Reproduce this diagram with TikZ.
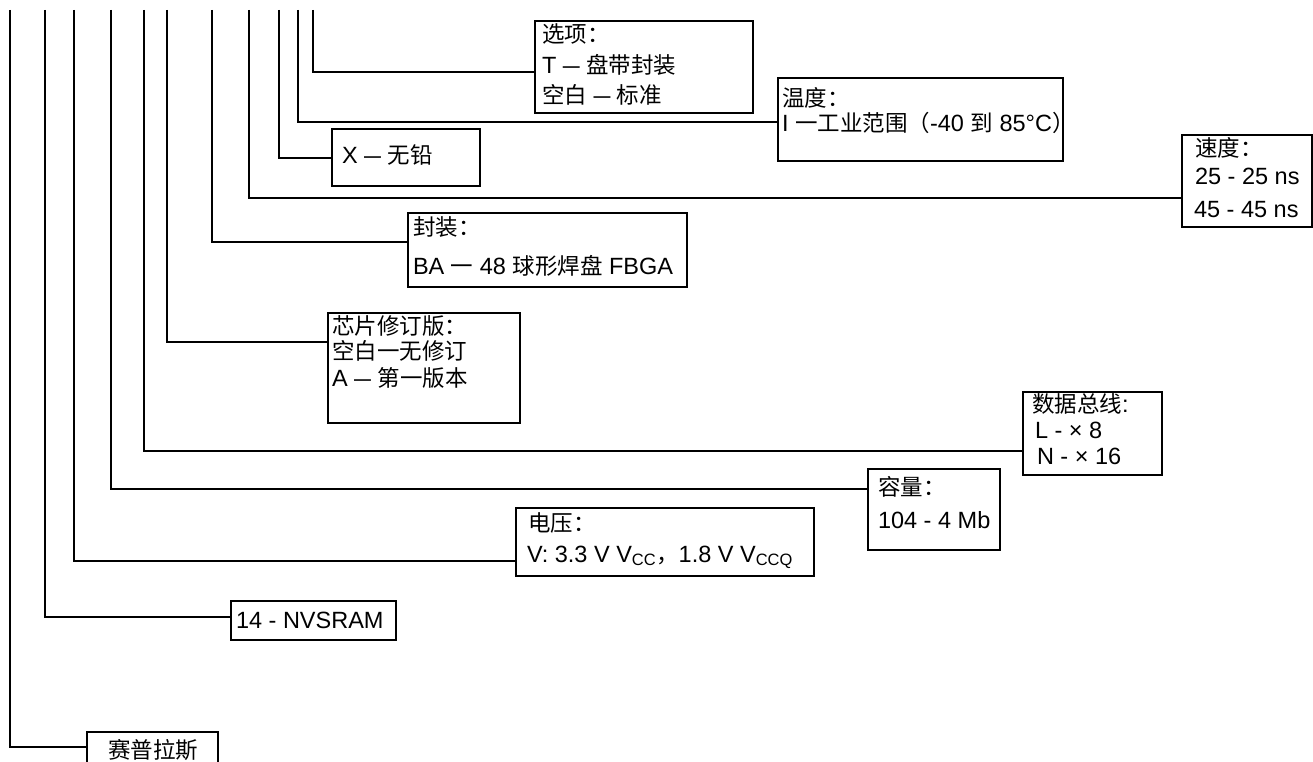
\documentclass[tikz,border=0pt]{standalone}
\usepackage{fontspec}
\usepackage{graphicx}
\setmainfont{Liberation Sans}
\newfontfamily\cjkf{Noto Sans CJK SC}
\newcommand\zh[1]{{\cjkf\fontsize{22.5}{28}\selectfont #1}}
\newcommand\dsh{\scalebox{0.72}[1]{—}}
\begin{document}
\begin{tikzpicture}[x=1pt,y=-1pt,
  boxs/.style={draw, line width=2pt, rectangle, inner sep=0pt, outer sep=0pt, anchor=north west},
  conn/.style={line width=2.2pt},
  txt/.style={anchor=base west, inner sep=0pt, outer sep=0pt, font=\fontsize{23.5}{28}\selectfont}]
\path[use as bounding box] (0,0) rectangle (1313,762);
\clip (0,0) rectangle (1313,762);
% boxes
\node[boxs, minimum width=218pt, minimum height=92pt] (opt) at (535,21) {};
\node[boxs, minimum width=285pt, minimum height=83pt] (temp) at (778,78) {};
\node[boxs, minimum width=148pt, minimum height=57pt] (xb) at (332,129) {};
\node[boxs, minimum width=130pt, minimum height=92pt] (spd) at (1182,135) {};
\node[boxs, minimum width=279pt, minimum height=74pt] (pkg) at (408,213) {};
\node[boxs, minimum width=192pt, minimum height=110pt] (rev) at (328,313) {};
\node[boxs, minimum width=139pt, minimum height=83pt] (bus) at (1023,392) {};
\node[boxs, minimum width=132pt, minimum height=81pt] (cap) at (868,469) {};
\node[boxs, minimum width=298pt, minimum height=68pt] (volt) at (516,508) {};
\node[boxs, minimum width=165pt, minimum height=39pt] (nv) at (231,601) {};
\node[boxs, minimum width=131pt, minimum height=50pt] (cy) at (87,732) {};
% texts
\node[txt] (opt1) at (542,43) {\zh{选项：}};
\node[txt] (opt2) at (542,74) {T \dsh{} \zh{盘带封装}};
\node[txt] (opt3) at (542,104) {\zh{空白} \dsh{} \zh{标准}};
\node[txt] (temp1) at (782,107) {\zh{温度：}};
\node[txt] (temp2) at (782,132) {I \zh{一工业范围（}-40 \zh{到} 85°C\zh{）}};
\node[txt] (xb1) at (342,164) {X \dsh{} \zh{无铅}};
\node[txt] (spd1) at (1195,157) {\zh{速度：}};
\node[txt] (spd2) at (1195,184) {25 - 25 ns};
\node[txt] (spd3) at (1194,217) {45 - 45 ns};
\node[txt] (pkg1) at (413,235) {\zh{封装：}};
\node[txt] (pkg2) at (413,274) {BA \zh{一} 48 \zh{球形焊盘} FBGA};
\node[txt] (rev1) at (332,334) {\zh{芯片修订版：}};
\node[txt] (rev2) at (332,359) {\zh{空白一无修订}};
\node[txt] (rev3) at (332,386) {A \dsh{} \zh{第一版本}};
\node[txt] (bus1) at (1032,412) {\zh{数据总线}:};
\node[txt] (bus2) at (1035,438) {L - × 8};
\node[txt] (bus3) at (1037,464) {N - × 16};
\node[txt] (cap1) at (878,495) {\zh{容量：}};
\node[txt] (cap2) at (878,528) {104 - 4 Mb};
\node[txt] (volt1) at (528,531) {\zh{电压：}};
\node[txt] (volt2) at (527,562) {V: 3.3 V V\textsubscript{CC}\zh{，}1.8 V V\textsubscript{CCQ}};
\node[txt] (nv1) at (236,628) {14 - NVSRAM};
\node[txt] (cy1) at (108,758) {\zh{赛普拉斯}};
% connector tops and levels
\foreach \x in {10,45,74,111,144,167,212,249,279,298,313}{\coordinate (v\x) at (\x,10);}
\coordinate (h313) at (0,72);
\coordinate (h298) at (0,122);
\coordinate (h279) at (0,158);
\coordinate (h249) at (0,198);
\coordinate (h212) at (0,242);
\coordinate (h167) at (0,342);
\coordinate (h144) at (0,451);
\coordinate (h111) at (0,489);
\coordinate (h74) at (0,561);
\coordinate (h45) at (0,617);
\coordinate (h10) at (0,747);
\draw[conn] (v313) |- (opt.west |- h313);
\draw[conn] (v298) |- (temp.west |- h298);
\draw[conn] (v279) |- (xb.west |- h279);
\draw[conn] (v249) |- (spd.west |- h249);
\draw[conn] (v212) |- (pkg.west |- h212);
\draw[conn] (v167) |- (rev.west |- h167);
\draw[conn] (v144) |- (bus.west |- h144);
\draw[conn] (v111) |- (cap.west |- h111);
\draw[conn] (v74) |- (volt.west |- h74);
\draw[conn] (v45) |- (nv.west |- h45);
\draw[conn] (v10) |- (cy.west |- h10);
\end{tikzpicture}
\end{document}
